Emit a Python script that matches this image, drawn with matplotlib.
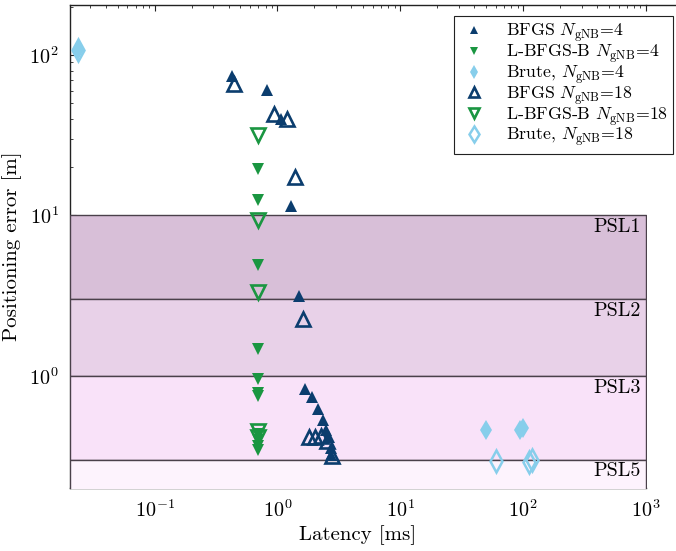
import matplotlib
matplotlib.use("Agg")
import matplotlib.pyplot as plt

plt.rcParams["font.family"] = "serif"
plt.rcParams["font.serif"] = ["cmr10", "DejaVu Serif"]
plt.rcParams["mathtext.fontset"] = "cm"
plt.rcParams["axes.formatter.use_mathtext"] = True
plt.rcParams["axes.unicode_minus"] = False

# Latency [ms] and positioning error [m] per solver / number of gNBs
bfgs4_lat = [0.43, 0.83, 1.06, 1.28, 1.49, 1.69, 1.92, 2.15, 2.36, 2.47, 2.63, 2.71, 2.71]
bfgs4_err = [73.7, 60.9, 39.8, 11.4, 3.14, 0.823, 0.74, 0.626, 0.53, 0.459, 0.417, 0.353, 0.32]

lbfgsb4_lat = [0.70] * 11
lbfgsb4_err = [19.6, 12.5, 4.9, 1.47, 0.96, 0.78, 0.75, 0.433, 0.398, 0.365, 0.344]

brute4_lat = [0.024, 50, 95, 100]
brute4_err = [108, 0.46, 0.46, 0.47]

bfgs18_lat = [0.44, 0.945, 1.2, 1.40, 1.62, 1.80, 2.01, 2.25, 2.52, 2.76]
bfgs18_err = [66.3, 43.1, 40.2, 17.4, 2.26, 0.417, 0.417, 0.42, 0.392, 0.316]

lbfgsb18_lat = [0.70] * 5
lbfgsb18_err = [31.6, 9.33, 3.34, 0.452, 0.415]

brute18_lat = [0.024, 60, 112, 118]
brute18_err = [108, 0.294, 0.29, 0.30]

# Positioning service levels: name, lower bound, upper bound
psl_names = ["PSL1", "PSL2", "PSL3", "PSL5"]
psl_low = [3, 1, 0.3, 0.1]
psl_high = [10, 3, 1, 0.3]
psl_colors = ["#d8bfd8", "#e8d1e8", "#f9e2f9", "#fdf3fd"]

c_bfgs = "#0b3d6e"
c_lbfgsb = "#1a9641"
c_brute = "#87ceeb"

fig = plt.figure(figsize=(6.76, 5.51), dpi=100)
ax = fig.add_axes([70 / 676, 1 - 488 / 551, 576 / 676, 483 / 551])
ax.set_xscale("log")
ax.set_yscale("log")
xmin, xmax = 0.0205, 1000
ax.set_xlim(xmin, xmax)
ax.set_ylim(0.2, 205)

for name, lo, hi, col in zip(psl_names, psl_low, psl_high, psl_colors):
    ax.fill_between([xmin, xmax], [lo, lo], [hi, hi], facecolor=col,
                    edgecolor="#4a404a", linewidth=1.0, zorder=3)
    ax.annotate(name, xy=(xmax, hi), xytext=(-4, -2), textcoords="offset points",
                ha="right", va="top", fontsize=14.5, zorder=3.5)

ms_f, ms_h, lw_h = 8.3, 10.0, 1.9
ax.plot(bfgs4_lat, bfgs4_err, ls="none", marker="^", ms=ms_f, mfc=c_bfgs, mec=c_bfgs,
        mew=0, zorder=5, label=r"BFGS $N_{\mathrm{gNB}}$=4")
ax.plot(lbfgsb4_lat, lbfgsb4_err, ls="none", marker="v", ms=ms_f, mfc=c_lbfgsb, mec=c_lbfgsb,
        mew=0, zorder=5, label=r"L-BFGS-B $N_{\mathrm{gNB}}$=4")
ax.plot(brute4_lat, brute4_err, ls="none", marker="d", ms=10.5, mfc=c_brute, mec=c_brute,
        mew=0, zorder=5, label=r"Brute, $N_{\mathrm{gNB}}$=4")
ax.plot(bfgs18_lat, bfgs18_err, ls="none", marker="^", ms=ms_h, mfc="none", mec=c_bfgs,
        mew=lw_h, zorder=5, label=r"BFGS $N_{\mathrm{gNB}}$=18")
ax.plot(lbfgsb18_lat, lbfgsb18_err, ls="none", marker="v", ms=ms_h, mfc="none", mec=c_lbfgsb,
        mew=lw_h, zorder=5, label=r"L-BFGS-B $N_{\mathrm{gNB}}$=18")
ax.plot(brute18_lat, brute18_err, ls="none", marker="d", ms=11, mfc="none", mec=c_brute,
        mew=1.8, zorder=5, label=r"Brute, $N_{\mathrm{gNB}}$=18")

for s in ["left", "top", "bottom"]:
    ax.spines[s].set_color("#222222")
    ax.spines[s].set_linewidth(1.0)
ax.spines["right"].set_visible(False)
ax.plot([1, 1.06], [1, 1], transform=ax.transAxes, color="#222222", lw=1.0,
        clip_on=False, zorder=6)

ax.tick_params(which="both", direction="in", top=True, bottom=False, right=False,
               left=True, labeltop=False, labelbottom=True, color="#222222")
ax.tick_params(which="major", length=4.5, width=0.8, labelsize=14.5, pad=8)
ax.tick_params(which="minor", length=2.5, width=0.6)

ax.set_xlabel("Latency [ms]", fontsize=15, labelpad=3)
ax.set_ylabel("Positioning error [m]", fontsize=15, labelpad=5)

leg = ax.legend(loc="upper right", bbox_to_anchor=(1.047, 0.977), borderaxespad=0,
                fontsize=12.8, frameon=True, fancybox=False, framealpha=1,
                edgecolor="#222222", markerscale=0.7, handletextpad=1.0,
                handlelength=1.6, labelspacing=-0.12, borderpad=0.3)
leg.get_frame().set_linewidth(0.8)
leg.set_zorder(7)

fig.savefig("out.png", dpi=100)
